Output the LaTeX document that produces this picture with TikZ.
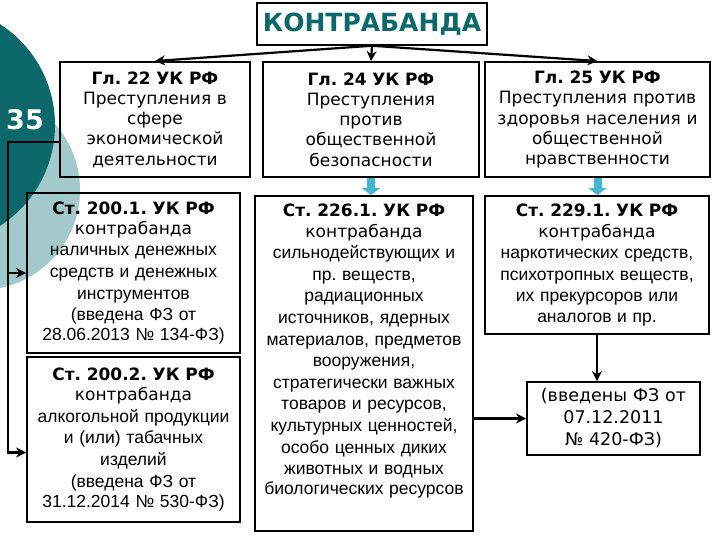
\documentclass[tikz,border=0pt]{standalone}
\usepackage{fontspec}
\setmainfont{DejaVu Sans}
\newfontfamily\arialfont{Liberation Sans}
\usetikzlibrary{arrows.meta}
\frenchspacing
\definecolor{darkteal}{RGB}{12,104,106}
\definecolor{paleteal}{RGB}{162,201,203}
\definecolor{cyanarrow}{RGB}{66,182,204}
\newcommand\bodyfont{\fontsize{17}{20.2}\selectfont}
\newcommand\arialbody{\arialfont\fontsize{17.5}{21.6}\selectfont}

\begin{document}
\begin{tikzpicture}[x=1pt,y=-1pt,
    box/.style={draw,line width=1.9pt,align=center,inner xsep=2pt,inner ysep=0pt,font=\bodyfont},
    conn/.style={line width=2.2pt,-{Stealth[length=10pt,width=10pt]}},
    fatarrow/.style={cyanarrow,line width=8pt,-{Triangle[length=7pt,width=18pt]}}]
    \useasboundingbox (0,0) rectangle (720,540);
    \begin{scope}
        \clip (0,0) rectangle (720,540);
        \fill[paleteal] (-20,190) circle (100pt);
        \fill[darkteal] (-65,125) circle (120pt);
    \end{scope}
    \node[white,font=\bfseries\fontsize{27}{27}\selectfont] (num) at (25,120) {35};

    \node[draw,line width=1.5pt,minimum width=230pt,minimum height=42pt,text=darkteal,
        font=\bfseries\fontsize{25}{25}\selectfont] (title) at (372,24) {КОНТРАБАНДА};

    \node[box,text width=186pt,minimum height=115pt] (gl22) at (155,119.5)
        {\textbf{Гл. 22 УК РФ}\\Преступления в\\сфере\\экономической\\деятельности};
    \node[box,text width=212pt,minimum height=115pt] (gl24) at (371,119.5)
        {\textbf{Гл. 24 УК РФ}\\Преступления\\против\\общественной\\безопасности};
    \node[box,text width=221pt,minimum height=115pt] (gl25) at (597.5,119.5)
        {\textbf{Гл. 25 УК РФ}\\Преступления против\\здоровья населения и\\общественной\\нравственности};

    \node[box,text width=209pt,minimum height=160pt] (s2001) at (133.5,273)
        {\textbf{Ст. 200.1. УК РФ}\\контрабанда\\\arialbody наличных денежных\\средств и денежных\\инструментов\\(введена ФЗ от\\28.06.2013 № 134-ФЗ)};
    \node[box,text width=209pt,minimum height=165pt] (s2002) at (133.5,439.5)
        {\textbf{Ст. 200.2. УК РФ}\\контрабанда\\\arialbody алкогольной продукции\\и (или) табачных\\изделий\\(введена ФЗ от\\31.12.2014 № 530-ФЗ)};
    \node[box,text width=214pt,minimum height=335pt] (s2261) at (364,363.5)
        {\textbf{Ст. 226.1. УК РФ}\\контрабанда\\\arialbody сильнодействующих и\\пр. веществ,\\радиационных\\источников, ядерных\\материалов, предметов\\вооружения,\\стратегически важных\\товаров и ресурсов,\\культурных ценностей,\\особо ценных диких\\животных и водных\\биологических ресурсов\rule[-28pt]{0pt}{1pt}};
    \node[box,text width=220pt,minimum height=138pt] (s2291) at (597,265)
        {\textbf{Ст. 229.1. УК РФ}\\контрабанда\\\arialbody наркотических средств,\\психотропных веществ,\\их прекурсоров или\\аналогов и пр.};
    \node[box,text width=169pt,minimum height=73pt,font=\fontsize{17.5}{22}\selectfont] (intro) at (613.5,418.5)
        {(введены ФЗ от\\07.12.2011\\№ 420-ФЗ)};

    \draw[conn] (title.south) -- (gl24.north);
    \draw[conn] (title.south) -- (gl22.north);
    \draw[conn] (title.south) -- (gl25.north);
    \draw[fatarrow] (gl24.south) -- (gl24.south |- s2261.north);
    \draw[fatarrow] (gl25.south) -- (gl25.south |- s2291.north);
    \coordinate (rail) at (8,142);
    \draw[conn] (gl22.west |- rail) -- (rail) |- ([yshift=-13pt]s2002.west);
    \draw[conn] (rail |- s2001.west) -- (s2001.west);
    \draw[conn] (s2291.south) -- (s2291.south |- intro.north);
    \draw[conn] (s2261.east |- intro.west) -- (intro.west);
\end{tikzpicture}
\end{document}
